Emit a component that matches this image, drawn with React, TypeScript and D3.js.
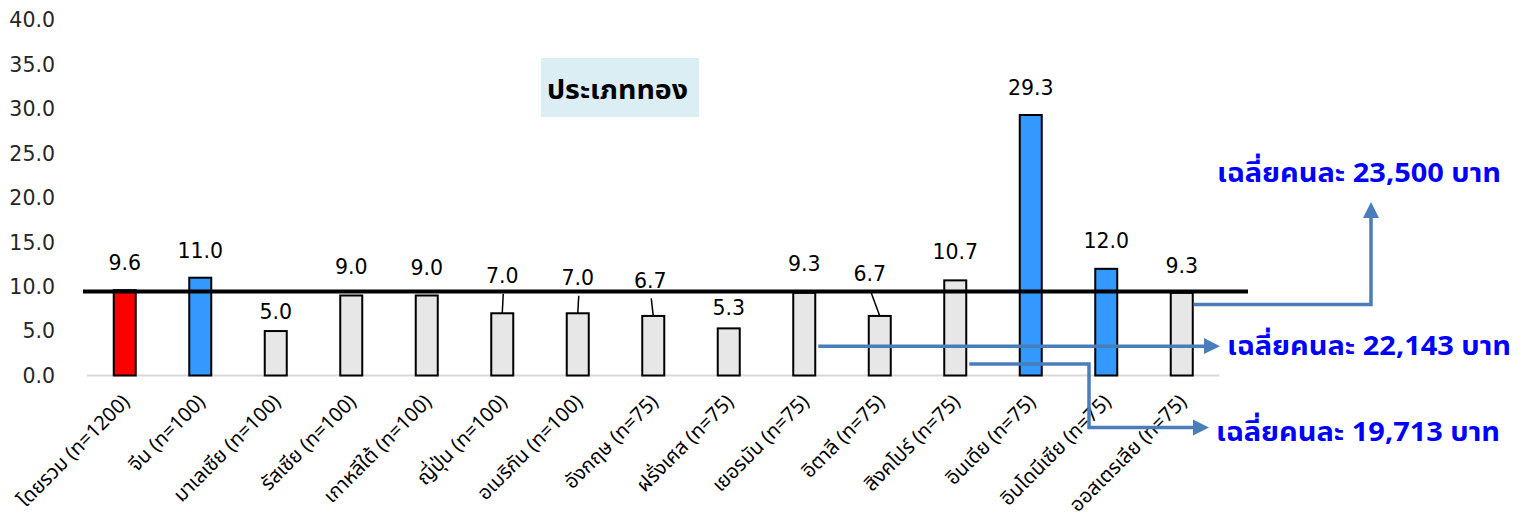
import React from "react";
import * as d3 from "d3";

// Gold-type share by nationality (%)
const categories = [
  "โดยรวม (n=1200)",
  "จีน (n=100)",
  "มาเลเซีย (n=100)",
  "รัสเซีย (n=100)",
  "เกาหลีใต้ (n=100)",
  "ญี่ปุ่น (n=100)",
  "อเมริกัน (n=100)",
  "อังกฤษ (n=75)",
  "ฝรั่งเศส (n=75)",
  "เยอรมัน (n=75)",
  "อิตาลี (n=75)",
  "สิงคโปร์ (n=75)",
  "อินเดีย (n=75)",
  "อินโดนีเซีย (n=75)",
  "ออสเตรเลีย (n=75)",
];
const values = [9.6, 11.0, 5.0, 9.0, 9.0, 7.0, 7.0, 6.7, 5.3, 9.3, 6.7, 10.7, 29.3, 12.0, 9.3];
// "total" | "focus" | "other"
const groups = [
  "total", "focus", "other", "other", "other", "other", "other", "other",
  "other", "other", "other", "other", "focus", "focus", "other",
];
const yTicks = [0, 5, 10, 15, 20, 25, 30, 35, 40];
const averageLevel = 9.5;
const chartTitle = "ประเภททอง";
const spendNotes = [
  "เฉลี่ยคนละ 23,500 บาท",
  "เฉลี่ยคนละ 22,143 บาท",
  "เฉลี่ยคนละ 19,713 บาท",
];

// label placement tweaks (px): [dx, dy from default, leader line]
const labelNudge: [number, number, boolean][] = [
  [0, 0, false], [0, 0, false], [0, 8, false], [0, -1, false], [0, 0, false],
  [0, -10, true], [0, -8, true], [-3, -8, true], [0, 7, false], [0, -2, false],
  [-10, -15, true], [0, -1, false], [0, 0, false], [0, -1, false], [0, 0, false],
];

const W = 1522;
const H = 516;
const plotLeft = 87;
const plotRight = 1219.5;

const colors: Record<string, string> = {
  total: "#FF0000",
  focus: "#3399FF",
  other: "#E7E7E7",
};

const x = d3.scaleBand<number>().domain(d3.range(categories.length)).range([plotLeft, plotRight]).padding(0);
const y = d3.scaleLinear().domain([0, 40]).range([375.5, 19.9]);

const numFont = "'DejaVu Sans', Verdana, sans-serif";
const thaiFont = "Tahoma, 'Noto Sans Thai', 'Noto Sans', sans-serif";
const arrowBlue = "#4A7EBB";

const cx = (i: number) => (x(i) as number) + x.bandwidth() / 2;
const barW = 22;

export default function App() {
  const arrowPaths = [
    // from Australia up to the 23,500 note
    {
      d: `M${cx(14) + barW / 2 + 1},${y(8.0)} H1371 V218`,
      head: "M1363,218 L1371,202 L1379,218 Z",
    },
    // from Germany across to the 22,143 note
    {
      d: `M${cx(9) + barW / 2 + 3},${y(3.3)} H1204`,
      head: `M1204,338 L1220,${y(3.3)} L1204,354 Z`,
    },
    // from Singapore down to the 19,713 note
    {
      d: `M${cx(11) + barW / 2 + 3},${y(1.3)} H1089 V427.5 H1193`,
      head: "M1193,419.5 L1209,427.5 L1193,435.5 Z",
    },
  ];

  const notePos = [
    { x: 1217, y: 181.5 },
    { x: 1227, y: 355 },
    { x: 1216, y: 440.5 },
  ];

  return (
    <svg width={W} height={H} style={{ position: "absolute", left: 0, top: 0, background: "#fff" }}>
      {/* y axis labels */}
      {yTicks.map((t) => (
        <text
          key={t}
          x={55}
          y={y(t)}
          dy="0.36em"
          textAnchor="end"
          fontFamily={numFont}
          fontSize={20.5}
          fill="#262626"
        >
          {d3.format(".1f")(t)}
        </text>
      ))}

      {/* title box */}
      <rect x={541} y={58} width={158} height={59} fill="#DAEEF3" />
      <text
        x={547}
        y={99}
        textLength={141}
        lengthAdjust="spacingAndGlyphs"
        fontFamily={thaiFont}
        fontWeight="bold"
        fontSize={27}
        fill="#000"
      >
        {chartTitle}
      </text>

      {/* baseline */}
      <line x1={plotLeft} x2={plotRight} y1={y(0)} y2={y(0)} stroke="#D9D9D9" strokeWidth={2} />

      {/* bars */}
      {values.map((v, i) => (
        <rect
          key={i}
          x={cx(i) - barW / 2}
          y={y(v)}
          width={barW}
          height={y(0) - y(v)}
          fill={colors[groups[i]]}
          stroke="#000"
          strokeWidth={2}
        />
      ))}

      {/* average line */}
      <line x1={83} x2={1248} y1={y(averageLevel) + 0.5} y2={y(averageLevel) + 0.5} stroke="#000" strokeWidth={4} />

      {/* value labels */}
      {values.map((v, i) => {
        const [dx, dy, leader] = labelNudge[i];
        const lx = cx(i) + dx;
        const ly = y(v) - 27.5 + dy;
        return (
          <g key={i}>
            {leader && (
              <line x1={lx + 1} y1={ly + 18} x2={cx(i)} y2={y(v)} stroke="#000" strokeWidth={1.5} />
            )}
            <text x={lx} y={ly} dy="0.36em" textAnchor="middle" fontFamily={numFont} fontSize={20.5} fill="#000">
              {d3.format(".1f")(v)}
            </text>
          </g>
        );
      })}

      {/* category labels */}
      {categories.map((c, i) => (
        <text
          key={c}
          transform={`translate(${cx(i) + 6},${403}) rotate(-45)`}
          textAnchor="end"
          fontFamily={thaiFont}
          fontSize={20}
          fill="#000"
        >
          {c}
        </text>
      ))}

      {/* arrows */}
      {arrowPaths.map((a, i) => (
        <g key={i}>
          <path d={a.d} fill="none" stroke={arrowBlue} strokeWidth={3.5} />
          <path d={a.head} fill={arrowBlue} />
        </g>
      ))}

      {/* spending notes */}
      {spendNotes.map((s, i) => (
        <text
          key={s}
          x={notePos[i].x}
          y={notePos[i].y}
          textLength={284}
          lengthAdjust="spacingAndGlyphs"
          fontFamily={thaiFont}
          fontWeight="bold"
          fontSize={26.5}
          fill="#0000FF"
        >
          {s}
        </text>
      ))}
    </svg>
  );
}
